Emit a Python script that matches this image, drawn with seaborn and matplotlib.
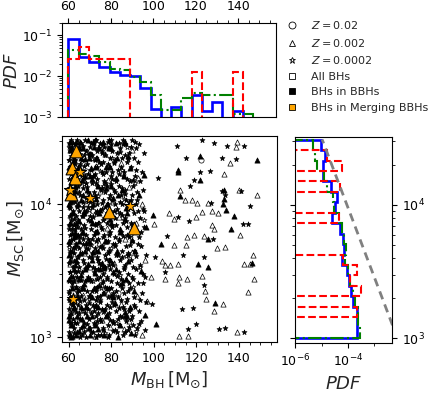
import numpy as np
import seaborn as sns
import matplotlib
matplotlib.use("Agg")
import matplotlib.pyplot as plt
from matplotlib.lines import Line2D
from matplotlib.ticker import AutoMinorLocator, NullFormatter

# ---- top panel: PDF of M_BH (18 bins, 60 -> 147 Msun)
mbh_edges = np.linspace(60, 147.1, 19)
pdf_all_mbh = [0.083, 0.030, 0.023, 0.017, 0.0127, 0.0106, 0.0100, 0.0053, 0.0016,
               0, 0.0018, 0, 0.0035, 0.0014, 0.0024, 0, 0.0014, 0]
pdf_bbh_mbh = [0.043, 0.036, 0.032, 0.022, 0.015, 0.014, 0.0096, 0.0072, 0.0035,
               0.0015, 0.0015, 0.0030, 0.0039, 0.0035, 0.0035, 0.0035, 0.0012, 0.0012]
pdf_merge_mbh = [0.026, 0.052, 0.026, 0.026, 0.026, 0.026, 0, 0, 0,
                 0, 0, 0, 0.013, 0, 0, 0, 0.013, 0]

# ---- side panel: PDF of M_SC (19 log bins, low -> high mass)
msc_edges = np.logspace(3.0, 4.49, 20)
pdf_all_msc = [2.2e-4, 2.1e-4, 2.1e-4, 1.58e-4, 1.26e-4, 1.09e-4, 9.4e-5, 5.7e-5, 7.0e-5, 6.6e-5,
               5.0e-5, 2.4e-5, 3.2e-5, 3.7e-5, 2.3e-5, 1.1e-5, 1.17e-5, 1.29e-5, 9.3e-6]
pdf_bbh_msc = [2.8e-4, 2.4e-4, 2.4e-4, 1.84e-4, 1.5e-4, 1.19e-4, 1.03e-4, 7.7e-5, 8.4e-5, 7.3e-5,
               5.7e-5, 4.5e-5, 3.0e-5, 2.6e-5, 1.57e-5, 1.28e-5, 6.6e-6, 5.7e-6, 4.6e-6]
pdf_merge_msc = [0, 0, 2.1e-4, 0, 3.0e-4, 1.2e-4, 2.1e-4, 6.7e-5, 0, 0,
                 0, 4.7e-5, 0, 0, 5.0e-5, 0, 5.75e-5, 1.57e-5, 0]
guide_msc = [1.0e3, 3.1e4]
guide_pdf = [7.4e-3, 1.05e-5]

# ---- scatter: (M_BH, log10 M_SC)
star_bbh = [
    (60.4,3.01),(62.8,3.03),(66.1,3.02),(70.5,3.04),(75.2,3.02),(81.0,3.05),(88.3,3.08),
    (61.5,3.09),(64.2,3.11),(68.9,3.10),(73.4,3.12),(79.6,3.13),(85.1,3.15),(93.2,3.10),
    (60.8,3.17),(63.5,3.19),(67.7,3.18),(71.9,3.20),(77.3,3.21),(83.8,3.22),(90.6,3.24),
    (62.1,3.25),(65.4,3.27),(69.8,3.26),(74.6,3.28),(80.2,3.30),(87.5,3.29),
    (60.2,3.33),(63.9,3.34),(67.0,3.36),(72.7,3.35),(78.8,3.37),(84.4,3.39),(95.0,3.41),
    (61.8,3.41),(65.9,3.43),(70.3,3.44),(76.1,3.42),(82.6,3.46),(89.9,3.45),
    (60.6,3.49),(64.6,3.50),(68.2,3.52),(73.9,3.51),(79.0,3.54),(86.2,3.53),
    (62.5,3.57),(66.7,3.58),(71.2,3.60),(77.8,3.59),(83.1,3.62),(91.5,3.61),
    (60.9,3.65),(63.2,3.67),(69.3,3.66),(74.9,3.68),(81.7,3.70),(88.8,3.69),
    (61.3,3.73),(65.1,3.75),(70.8,3.74),(76.6,3.77),(85.6,3.76),(94.1,3.79),
    (60.3,3.81),(64.0,3.83),(67.9,3.82),(72.4,3.85),(80.5,3.84),(87.0,3.87),
    (62.7,3.89),(66.3,3.91),(71.6,3.90),(78.2,3.93),(84.9,3.92),(92.4,3.95),
    (60.7,3.97),(63.8,3.99),(69.0,3.98),(75.5,4.01),(82.0,4.00),(89.3,4.03),
    (61.6,4.05),(65.6,4.07),(70.1,4.06),(76.9,4.09),(86.7,4.08),
    (60.1,4.12),(64.4,4.14),(68.6,4.13),(73.1,4.16),(79.9,4.15),(90.2,4.18),
    (62.3,4.20),(66.5,4.22),(71.4,4.21),(77.5,4.24),(83.5,4.23),
    (60.5,4.28),(63.0,4.30),(67.3,4.29),(74.2,4.32),(81.3,4.31),(88.0,4.34),
    (61.1,4.36),(65.2,4.38),(69.6,4.37),(75.8,4.40),(84.2,4.39),
    (60.2,4.43),(62.9,4.45),(66.8,4.44),(72.0,4.46),(78.5,4.47),(85.8,4.45),(91.0,4.47),
    (110.9,4.44),(122.7,4.48),(128.5,4.46),(134.4,4.44),(142.3,4.44),(115.3,4.35),
    (132.1,4.35),(138.8,4.34),(126.3,4.25),(121.9,4.24),(118.7,4.18),(117.2,4.14),
    (141.0,4.10),(132.0,4.10),(133.5,4.07),(145.4,3.99),(127.0,4.01),(111.2,3.90),
    (106.2,3.76),(116.5,3.87),(142.0,3.85),(144.2,3.85),(127.8,3.74),(113.7,3.62),
    (123.4,3.60),(105.4,3.49),(123.8,3.39),(118.4,3.22),(113.2,3.21),(115.9,3.06),
    (120.0,3.10),(130.5,3.06),(133.6,3.07),(142.3,3.04),(102.0,4.20),(100.5,3.60),(99.0,3.25),
]
# extra filled stars in the crowded strip, one row per log10 M_SC
star_bbh_rows = [
    (3.00, [61.9, 65.6, 68.3, 73.1, 78.5]),
    (3.04, [60.2, 64.0, 67.2, 71.4, 82.9, 86.7]),
    (3.07, [62.6, 66.0, 70.0, 76.3, 92.0]),
    (3.11, [60.5, 63.0, 67.1, 71.8, 80.8]),
    (3.14, [62.0, 65.3, 69.4, 75.0, 83.0, 89.2]),
    (3.18, [61.3, 64.8, 70.4, 73.8, 79.0]),
    (3.21, [60.1, 62.9, 66.4, 69.0, 75.6, 86.0]),
    (3.24, [61.7, 64.5, 68.0, 71.5, 77.9, 81.2]),
    (3.28, [60.8, 63.2, 67.4, 72.9, 84.8, 93.5]),
    (3.31, [62.2, 65.8, 69.6, 75.0, 79.9]),
    (3.35, [60.4, 64.7, 68.8, 71.0, 82.1, 88.1]),
    (3.38, [61.6, 63.4, 66.1, 73.3, 77.1]),
    (3.42, [60.0, 62.7, 67.9, 70.5, 80.0, 85.5]),
    (3.45, [61.9, 64.2, 69.0, 74.8, 78.0, 96.0]),
    (3.49, [60.9, 63.0, 66.5, 72.1, 83.7]),
    (3.53, [62.0, 65.1, 68.9, 71.3, 77.0, 90.5]),
    (3.56, [60.2, 63.9, 67.3, 74.5, 80.3]),
    (3.60, [61.4, 64.6, 69.7, 73.2, 85.2]),
    (3.63, [60.6, 62.6, 66.2, 70.8, 78.4, 88.0]),
    (3.67, [61.9, 65.0, 68.0, 72.6, 76.2]),
    (3.70, [60.3, 63.6, 67.0, 70.2, 80.9, 92.7]),
    (3.74, [62.3, 66.6, 69.0, 74.0, 83.8]),
    (3.77, [60.5, 64.3, 68.3, 71.8, 78.9, 87.3]),
    (3.81, [61.8, 63.0, 66.0, 70.4, 75.6]),
    (3.84, [60.0, 62.6, 67.4, 73.0, 82.2, 90.0]),
    (3.88, [61.3, 64.6, 69.2, 76.4, 86.2]),
    (3.91, [60.6, 63.4, 66.8, 70.0, 79.5]),
    (3.95, [62.0, 65.1, 68.2, 73.5, 81.3, 95.3]),
    (3.98, [60.4, 64.0, 67.0, 71.2, 77.2]),
    (4.02, [61.6, 63.1, 66.9, 70.2, 84.0, 88.3]),
    (4.05, [60.0, 62.6, 68.3, 73.0, 79.0]),
    (4.09, [61.3, 64.9, 69.0, 72.0, 81.9, 92.0]),
    (4.12, [60.7, 63.6, 66.9, 75.5, 85.0]),
    (4.16, [62.3, 65.1, 68.4, 71.0, 77.0]),
    (4.19, [60.2, 63.9, 67.3, 73.6, 80.6, 87.4]),
    (4.23, [61.1, 64.8, 69.3, 72.5, 76.0]),
    (4.26, [60.4, 62.2, 66.0, 70.7, 83.0, 91.9]),
    (4.30, [61.7, 65.4, 68.7, 75.1, 78.7]),
    (4.33, [60.1, 63.0, 66.3, 72.4, 81.7]),
    (4.37, [62.4, 64.0, 67.2, 71.0, 77.3, 86.6]),
    (4.40, [60.8, 63.5, 68.0, 73.5, 80.5]),
    (4.43, [61.6, 64.7, 69.9, 76.8, 89.3]),
    (4.46, [60.0, 62.1, 65.8, 70.6, 74.6, 83.7]),
    (4.48, [61.0, 63.9, 67.6, 72.8, 80.0]),
    # the wider 72-97 Msun part of the crowd
    (3.020, [73.8, 79.1, 85.4, 91.2]),
    (3.055, [76.2, 81.9, 88.0, 95.8]),
    (3.090, [72.5, 78.3, 83.6, 90.1]),
    (3.125, [75.4, 80.7, 86.9, 94.0]),
    (3.160, [73.1, 77.9, 84.3, 89.6]),
    (3.195, [76.8, 82.5, 88.3, 93.1]),
    (3.230, [72.2, 79.4, 85.8, 91.4]),
    (3.265, [75.0, 80.3, 87.2, 96.2]),
    (3.300, [73.6, 78.6, 83.4, 90.7]),
    (3.335, [76.5, 81.1, 86.0, 94.5]),
    (3.370, [72.9, 79.9, 85.1, 89.0]),
    (3.405, [75.7, 82.8, 88.6, 92.6]),
    (3.440, [73.3, 78.1, 84.6, 90.3]),
    (3.475, [76.1, 81.5, 87.7, 95.1]),
    (3.510, [72.4, 79.6, 85.9, 91.8]),
    (3.545, [75.2, 80.9, 86.5, 93.7]),
    (3.580, [73.9, 78.9, 84.0, 89.4]),
    (3.615, [76.9, 82.3, 87.9, 96.4]),
    (3.650, [72.7, 79.2, 85.3, 90.9]),
    (3.685, [75.5, 81.6, 86.8, 94.2]),
    (3.720, [73.0, 78.4, 83.9, 89.8]),
    (3.755, [76.4, 82.0, 88.4, 92.9]),
    (3.790, [72.3, 79.7, 84.8, 91.0]),
    (3.825, [75.1, 80.4, 87.4, 95.6]),
    (3.860, [73.7, 78.0, 85.5, 89.2]),
    (3.895, [76.7, 81.8, 86.3, 93.4]),
    (3.930, [72.8, 79.0, 84.2, 90.6]),
    (3.965, [75.9, 82.6, 88.1, 94.8]),
    (4.000, [73.4, 78.7, 85.0, 91.6]),
    (4.035, [76.0, 80.2, 87.0, 92.2]),
    (4.070, [72.6, 79.5, 84.7, 89.9]),
    (4.105, [75.3, 81.3, 86.4, 95.0]),
    (4.140, [73.5, 78.2, 83.8, 90.4]),
    (4.175, [76.6, 82.1, 88.9, 93.6]),
    (4.210, [72.1, 79.8, 85.6, 91.3]),
    (4.245, [75.8, 80.6, 86.2, 94.3]),
    (4.280, [73.2, 78.8, 84.5, 89.5]),
    (4.315, [76.3, 81.4, 87.6, 92.4]),
    (4.350, [72.9, 79.3, 85.2, 90.8]),
    (4.385, [75.6, 82.7, 88.5, 95.4]),
    (4.420, [73.7, 78.5, 84.1, 91.5]),
    (4.455, [76.2, 80.1, 86.6, 93.3]),
    (4.480, [72.4, 79.0, 85.7, 90.0]),
]
tri_bbh = [
    (61.0,3.00),(64.8,3.05),(69.5,3.07),(74.0,3.06),(83.3,3.00),(89.5,3.03),
    (60.3,3.13),(66.4,3.14),(71.0,3.16),(78.0,3.17),(86.6,3.19),(96.1,3.17),
    (62.4,3.22),(68.0,3.23),(73.0,3.24),(81.8,3.26),
    (60.7,3.30),(64.1,3.31),(70.0,3.32),(76.4,3.33),(90.9,3.35),
    (63.3,3.38),(67.5,3.40),(74.4,3.39),(85.3,3.41),
    (61.2,3.46),(66.0,3.47),(72.2,3.48),(80.7,3.49),(93.8,3.50),
    (62.9,3.54),(69.1,3.55),(75.9,3.56),(87.9,3.57),
    (60.4,3.62),(65.3,3.63),(71.7,3.64),(82.9,3.65),
    (63.6,3.70),(68.4,3.71),(77.0,3.72),(90.0,3.73),
    (61.5,3.78),(66.9,3.79),(73.6,3.80),(84.0,3.81),(96.5,3.83),
    (60.8,3.86),(64.9,3.87),(70.6,3.88),(79.3,3.89),
    (62.0,3.94),(67.2,3.95),(74.7,3.96),(87.2,3.97),
    (60.5,4.02),(65.7,4.03),(72.9,4.04),(81.1,4.05),(93.0,4.07),
    (63.1,4.10),(68.7,4.11),(77.7,4.12),(85.0,4.11),
    (61.4,4.17),(66.2,4.18),(71.1,4.19),(82.3,4.20),(95.5,4.22),
    (60.9,4.25),(64.3,4.26),(70.4,4.27),(79.7,4.28),(89.0,4.27),
    (62.6,4.33),(67.8,4.34),(73.3,4.35),(87.8,4.36),
    (60.6,4.41),(65.0,4.42),(71.8,4.43),(80.0,4.42),(82.5,4.46),
    (63.4,4.47),(69.2,4.48),(76.2,4.47),
    (148.5,4.33),(121.6,4.36),(111.4,4.26),(111.4,4.24),(121.9,4.18),(132.9,4.11),
    (112.5,4.06),(132.9,4.04),(132.6,4.00),(133.7,3.96),(137.6,3.91),(136.3,3.81),
    (125.6,3.74),(103.4,3.70),(120.8,3.55),(125.6,3.53),(145.9,3.56),(128.6,3.26),
    (99.5,3.92),(101.0,3.10),
]
tri_bbh_rows = [
    (3.02, [60.7, 63.5, 69.9, 76.8]),
    (3.09, [61.4, 66.8, 72.3, 84.1]),
    (3.16, [60.3, 63.8, 68.7, 77.6]),
    (3.23, [62.5, 65.9, 74.0, 88.7]),
    (3.30, [60.9, 64.4, 70.8, 81.0]),
    (3.37, [61.8, 66.6, 72.0, 78.2]),
    (3.44, [60.4, 64.9, 68.5, 86.9]),
    (3.51, [62.4, 67.6, 75.0, 82.5]),
    (3.58, [60.8, 63.3, 71.0, 79.3]),
    (3.65, [61.6, 67.8, 73.9, 91.1]),
    (3.72, [60.1, 64.9, 69.4, 77.6]),
    (3.79, [62.9, 66.3, 72.7, 84.4]),
    (3.86, [60.7, 63.7, 70.9, 80.1]),
    (3.93, [61.5, 67.5, 74.1, 87.6]),
    (4.00, [60.3, 64.4, 71.6, 78.0]),
    (4.07, [62.7, 66.7, 69.8, 83.1]),
    (4.14, [60.9, 63.2, 73.8, 80.0]),
    (4.21, [61.9, 67.7, 70.1, 86.0]),
    (4.28, [60.2, 64.5, 72.2, 77.6]),
    (4.35, [62.6, 65.9, 69.5, 82.8]),
    (4.42, [61.3, 67.0, 74.4, 79.0]),
    (4.47, [60.5, 65.6, 71.3, 86.3]),
]
tri_all = [
    (62.2,3.04),(72.3,3.01),(79.4,3.08),(86.0,3.06),(94.6,3.02),
    (65.0,3.15),(75.6,3.13),(88.6,3.12),
    (61.0,3.24),(70.9,3.22),(84.7,3.25),(97.0,3.27),
    (66.6,3.32),(78.3,3.34),(92.3,3.31),
    (63.7,3.43),(73.5,3.45),(87.1,3.44),
    (60.6,3.55),(70.2,3.53),(81.4,3.56),(95.7,3.58),
    (67.4,3.63),(79.1,3.66),(89.6,3.64),
    (62.2,3.72),(74.3,3.71),(86.4,3.74),
    (65.8,3.84),(77.9,3.82),(91.7,3.86),
    (60.9,3.92),(72.6,3.93),(83.9,3.90),
    (68.1,4.01),(80.8,4.02),(94.4,4.00),
    (63.0,4.09),(75.0,4.10),(88.2,4.13),
    (66.0,4.19),(78.6,4.18),(92.8,4.20),
    (61.7,4.30),(72.8,4.29),(84.6,4.31),
    (68.9,4.40),(77.3,4.38),(89.7,4.41),(64.2,4.46),
    (139.0,4.47),(138.8,4.43),(136.0,4.31),(132.9,4.23),(112.5,4.11),(140.2,4.11),
    (148.5,4.07),(114.8,4.03),(117.9,4.03),(120.3,4.01),(125.3,4.01),(122.7,3.94),
    (127.4,3.95),(130.0,3.93),(107.0,3.93),(109.3,3.89),(120.0,3.90),(127.4,3.84),
    (128.2,3.81),(140.4,3.77),(115.6,3.75),(118.7,3.77),(123.7,3.76),(109.3,3.69),
    (115.3,3.69),(129.7,3.67),(133.6,3.68),(146.7,3.62),(103.8,3.57),(105.4,3.54),
    (107.8,3.54),(111.6,3.55),(142.2,3.55),(145.0,3.55),(105.4,3.44),(112.0,3.45),
    (115.6,3.44),(111.6,3.41),(122.7,3.46),(147.0,3.44),(124.0,3.35),(124.7,3.29),
    (132.5,3.25),(144.2,3.34),(128.2,3.20),(111.7,3.01),(115.9,3.01),(139.1,3.04),
    (100.0,3.85),(98.5,3.45),
]
star_all = [
    (63.8,3.02),(67.9,3.06),(77.0,3.03),(91.8,3.05),
    (62.0,3.12),(72.8,3.10),(82.2,3.11),
    (66.9,3.20),(76.0,3.19),(88.9,3.21),
    (60.1,3.28),(69.4,3.29),(81.5,3.31),
    (64.9,3.36),(75.3,3.37),(90.4,3.38),
    (61.6,3.44),(71.3,3.42),(84.0,3.47),
    (67.8,3.51),(76.8,3.50),(93.4,3.53),
    (63.9,3.60),(73.7,3.58),(86.8,3.61),
    (60.2,3.68),(70.7,3.69),(80.0,3.67),
    (66.3,3.76),(78.9,3.78),(89.1,3.77),
    (62.8,3.85),(74.1,3.86),(95.2,3.88),
    (69.7,3.96),(82.7,3.94),
    (61.9,4.04),(73.8,4.06),(86.1,4.04),
    (67.1,4.15),(76.3,4.14),(91.1,4.16),
    (63.5,4.23),(74.6,4.25),(85.3,4.26),
    (60.3,4.33),(70.9,4.34),(80.6,4.35),
    (66.4,4.42),(74.9,4.44),(87.3,4.43),
]
circ_all = [(64.5,3.47),(71.5,3.95),(83.0,3.33),(68.0,4.25),(122.0,4.33),
            (61.3,3.18),(88.5,3.62),(79.0,4.45)]
circ_bbh = [(63.0,3.75),(76.5,3.52),(69.9,4.38),(86.9,3.15)]

merge_mbh = [63.5, 61.5, 65.4, 63.1, 60.7, 61.0, 70.1, 79.2, 88.9, 90.8, 62.0]
merge_logmsc = [4.40, 4.27, 4.24, 4.20, 4.11, 4.075, 4.05, 3.94, 3.99, 3.82, 3.286]
merge_marker = ['^', '^', '*', '^', '*', '^', '*', '^', '*', '^', '*']

for logm, xs in star_bbh_rows:
    star_bbh += [(x, logm) for x in xs]
for logm, xs in tri_bbh_rows:
    tri_bbh += [(x, logm) for x in xs]

sns.set_style("ticks", {"axes.edgecolor": "black", "xtick.color": "black",
                        "ytick.color": "black"})
plt.rcParams["font.family"] = ["DejaVu Sans"]
plt.rcParams["mathtext.fontset"] = "dejavusans"

fig = plt.figure(figsize=(4.36, 3.93), dpi=100)
ax_top = fig.add_axes([0.142, 0.702, 0.491, 0.239])
ax_main = fig.add_axes([0.142, 0.130, 0.493, 0.524])
ax_side = fig.add_axes([0.677, 0.128, 0.222, 0.524])

styles = [("blue", "-", 1.9), ("green", "-.", 1.5), ("red", "--", 1.5)]

# top histogram
for vals, (col, ls, lw) in zip([pdf_all_mbh, pdf_bbh_mbh, pdf_merge_mbh], styles):
    ax_top.stairs(vals, mbh_edges, baseline=0, color=col, linestyle=ls, linewidth=lw)
ax_top.set_yscale("log")
ax_top.set_ylim(1e-3, 0.2)
ax_top.set_xlim(56.9, 157.8)
ax_top.xaxis.tick_top()
ax_top.xaxis.set_minor_locator(AutoMinorLocator())
ax_top.set_xticks([60, 80, 100, 120, 140])
ax_top.set_ylabel("$PDF$", fontsize=13, labelpad=1)
ax_top.tick_params(labelsize=9)


# scatter
def draw(pts, marker, face):
    xs = [p[0] for p in pts]
    ys = [10 ** p[1] for p in pts]
    sns.scatterplot(x=xs, y=ys, marker=marker, s=14, color=face, edgecolor="black",
                    linewidth=0.5, ax=ax_main, legend=False, zorder=2)


draw(circ_all, "o", "white")
draw(tri_all, "^", "white")
draw(star_all, "*", "white")
draw(circ_bbh, "o", "black")
draw(tri_bbh, "^", "black")
draw(star_bbh, "*", "black")
for mk in ["^", "*"]:
    xs = [x for x, m in zip(merge_mbh, merge_marker) if m == mk]
    ys = [10 ** y for y, m in zip(merge_logmsc, merge_marker) if m == mk]
    sns.scatterplot(x=xs, y=ys, marker=mk, s=85, color="orange", edgecolor="black",
                    linewidth=0.8, ax=ax_main, legend=False, zorder=3)
ax_main.set_yscale("log")
ax_main.set_xlim(56.9, 157.8)
ax_main.set_ylim(925, 3.25e4)
ax_main.set_xticks([60, 80, 100, 120, 140])
ax_main.xaxis.set_minor_locator(AutoMinorLocator())
ax_main.set_xlabel(r"$M_{\rm BH}\,[{\rm M}_{\odot}]$", fontsize=13)
ax_main.set_ylabel(r"$M_{\rm SC}\,[{\rm M}_{\odot}]$", fontsize=13, labelpad=2)
ax_main.tick_params(labelsize=9)

# side histogram
for vals, (col, ls, lw) in zip([pdf_all_msc, pdf_bbh_msc, pdf_merge_msc], styles):
    ax_side.stairs(vals, msc_edges, baseline=0, orientation="horizontal",
                   color=col, linestyle=ls, linewidth=lw)
ax_side.plot(guide_pdf, guide_msc, color="gray", linestyle="--", linewidth=2,
             dashes=(3, 2))
ax_side.set_xscale("log")
ax_side.set_yscale("log")
ax_side.set_xlim(1e-6, 4.6e-3)
ax_side.set_ylim(925, 3.25e4)
ax_side.set_xticks([1e-6, 1e-4])
ax_side.set_xticks([1e-5, 1e-3], minor=True)
ax_side.xaxis.set_minor_formatter(NullFormatter())
ax_side.yaxis.tick_right()
ax_side.tick_params(which="both", left=True, right=True, labelsize=9)
ax_side.set_xlabel("$PDF$", fontsize=13)

# legend
handles = [
    Line2D([], [], ls="none", marker="o", mfc="white", mec="black", ms=5, mew=0.6),
    Line2D([], [], ls="none", marker="^", mfc="white", mec="black", ms=5, mew=0.6),
    Line2D([], [], ls="none", marker="*", mfc="white", mec="black", ms=5, mew=0.6),
    Line2D([], [], ls="none", marker="s", mfc="white", mec="black", ms=5, mew=0.6),
    Line2D([], [], ls="none", marker="s", mfc="black", mec="black", ms=5, mew=0.6),
    Line2D([], [], ls="none", marker="s", mfc="orange", mec="black", ms=5, mew=0.6),
]
labels = ["$Z=0.02$", "$Z=0.002$", "$Z=0.0002$", "All BHs", "BHs in BBHs",
          "BHs in Merging BBHs"]
fig.legend(handles, labels, loc="upper left", bbox_to_anchor=(0.647, 0.963),
           frameon=False, fontsize=8, handlelength=1, handletextpad=1.2,
           labelspacing=0.5, borderaxespad=0)

fig.savefig("out.png", dpi=100)
